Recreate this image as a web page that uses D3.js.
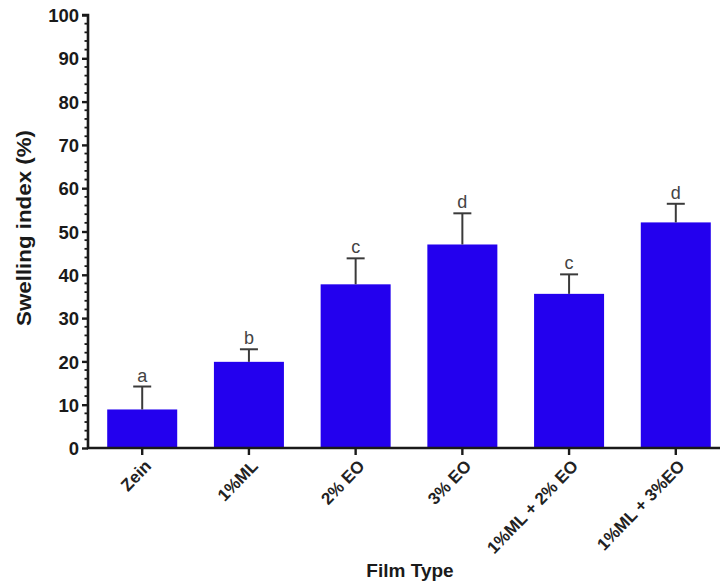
<!DOCTYPE html>
<html>
<head>
<meta charset="utf-8">
<script src="https://cdn.jsdelivr.net/npm/d3@7"></script>
<style>
  html, body { margin: 0; padding: 0; background: #fff; }
  svg { display: block; }
  text { font-family: "Liberation Sans", Arial, sans-serif; }
</style>
</head>
<body>
<svg id="chart" width="720" height="583"></svg>
<script>
// Swelling index of zein films
const categories = ["Zein", "1%ML", "2% EO", "3% EO", "1%ML + 2% EO", "1%ML + 3%EO"];
const means = [8.9, 19.9, 37.8, 47.0, 35.6, 52.1];
const sd = [5.3, 2.9, 6.0, 7.2, 4.5, 4.3];
const letters = ["a", "b", "c", "d", "c", "d"];
const yTicks = [0, 10, 20, 30, 40, 50, 60, 70, 80, 90, 100];

const svg = d3.select("#chart");
const axisX = 88, baseY = 448, topY = 15;

const x = d3.scaleBand()
  .domain(categories)
  .range([axisX, 730])
  .paddingInner(0.344)
  .paddingOuter(0.18);

const y = d3.scaleLinear().domain([0, 100]).range([baseY, topY]);

const ink = "#1a1a1a";

// bars
svg.append("g").selectAll("rect")
  .data(categories)
  .join("rect")
  .attr("x", d => x(d))
  .attr("y", (d, i) => y(means[i]))
  .attr("width", x.bandwidth())
  .attr("height", (d, i) => baseY - y(means[i]))
  .attr("fill", "#2300ee");

// upper error bars
const eb = svg.append("g").attr("stroke", "#3a3a3a").attr("stroke-width", 2);
categories.forEach((c, i) => {
  const cx = x(c) + x.bandwidth() / 2;
  eb.append("line").attr("x1", cx).attr("x2", cx)
    .attr("y1", y(means[i])).attr("y2", y(means[i] + sd[i]));
  eb.append("line").attr("x1", cx - 9).attr("x2", cx + 9)
    .attr("y1", y(means[i] + sd[i])).attr("y2", y(means[i] + sd[i]));
});

// significance letters
svg.append("g").selectAll("text")
  .data(categories)
  .join("text")
  .attr("x", d => x(d) + x.bandwidth() / 2)
  .attr("y", (d, i) => y(means[i] + sd[i]) - 5)
  .attr("text-anchor", "middle")
  .attr("font-size", 18)
  .attr("fill", "#444")
  .text((d, i) => letters[i]);

// y axis: minor ticks every 2 units
const minor = d3.range(0, 101, 2).filter(v => v % 10 !== 0);
const yAxisG = svg.append("g").attr("stroke", ink);
yAxisG.selectAll("line.minor")
  .data(minor)
  .join("line")
  .attr("class", "minor")
  .attr("x1", axisX - 3.5).attr("x2", axisX)
  .attr("y1", d => y(d)).attr("y2", d => y(d))
  .attr("stroke-width", 1.8);

const yAxis = d3.axisLeft(y).tickValues(yTicks).tickSize(6).tickPadding(3).tickFormat(d3.format("d"));
const ya = svg.append("g").attr("transform", `translate(${axisX},0)`).call(yAxis);
ya.select(".domain").attr("stroke", ink).attr("stroke-width", 2.6)
  .attr("d", `M-6,${y(100)}H0V${baseY}`);
ya.selectAll(".tick line").attr("stroke", ink).attr("stroke-width", 2.4);
ya.selectAll(".tick text")
  .attr("font-size", 18.5).attr("font-weight", "bold").attr("fill", ink)
  .attr("font-family", "'Liberation Sans', Arial, sans-serif")
  .attr("dy", "0.36em");

// x axis
const xAxis = d3.axisBottom(x).tickSize(7).tickFormat("");
const xa = svg.append("g").attr("transform", `translate(0,${baseY})`).call(xAxis);
xa.select(".domain").attr("stroke", ink).attr("stroke-width", 2.6)
  .attr("d", `M${axisX - 1},0H720`);
xa.selectAll(".tick line").attr("stroke", ink).attr("stroke-width", 2.4);

// rotated category labels
svg.append("g").selectAll("text")
  .data(categories)
  .join("text")
  .attr("transform", d => `translate(${x(d) + x.bandwidth() / 2 + 10},${baseY + 19}) rotate(-46)`)
  .attr("text-anchor", "end")
  .attr("font-size", 17)
  .attr("font-weight", "bold")
  .attr("fill", "#222")
  .text(d => d);

// axis titles
svg.append("text")
  .attr("x", 410).attr("y", 577)
  .attr("text-anchor", "middle")
  .attr("font-size", 19).attr("font-weight", "bold").attr("fill", ink)
  .text("Film Type");

svg.append("text")
  .attr("transform", "translate(31,228) rotate(-90)")
  .attr("text-anchor", "middle")
  .attr("font-size", 21).attr("font-weight", "bold").attr("fill", ink)
  .attr("textLength", 196).attr("lengthAdjust", "spacingAndGlyphs")
  .text("Swelling index (%)");
</script>
</body>
</html>
